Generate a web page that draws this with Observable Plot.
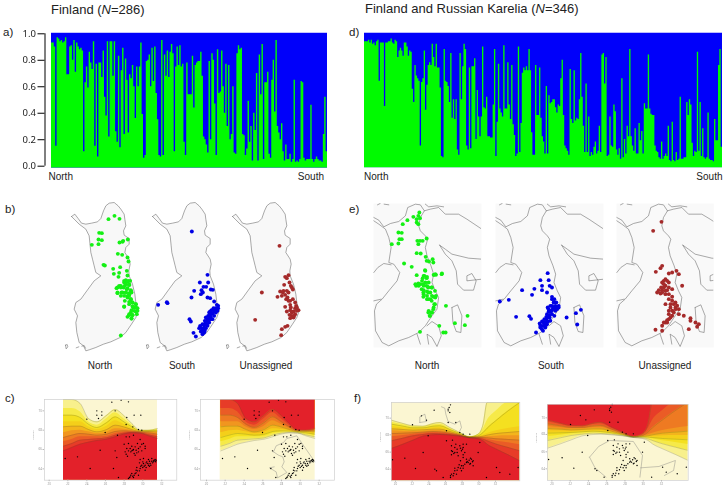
<!DOCTYPE html>
<html><head><meta charset="utf-8">
<script src="https://cdn.jsdelivr.net/npm/d3@7"></script>
<script src="https://cdn.jsdelivr.net/npm/@observablehq/plot@0.6"></script>
<style>
html,body{margin:0;padding:0;background:#fff;width:726px;height:489px;overflow:hidden}
body{position:relative;font-family:"Liberation Sans",Arial,sans-serif;color:#222}
.t{position:absolute;white-space:nowrap;line-height:1}
.p{position:absolute}
.p svg{display:block;background:transparent;overflow:visible}
</style></head><body>
<script>
// ---------- Membership proportions (share of the green cluster), ordered north to south
const finlandGreen = [.93,.93,.90,.15,.97,.96,.94,.95,.93,.94,.97,.69,.69,.90,.91,.80,.95,.71,.93,.90,.88,.89,.87,.11,.63,.75,.59,.86,.78,.73,.94,.15,.77,.07,.78,.78,.67,.87,.52,.38,.94,.22,.94,.94,.68,.94,.26,.18,.83,.14,.72,.89,.24,.81,.65,.25,.69,.66,.76,.60,.36,.75,.60,.75,.93,.39,.06,.08,.79,.80,.84,.60,.89,.64,.90,.55,.35,.08,.07,.95,.08,.84,.68,.87,.67,.86,.92,.85,.11,.75,.90,.76,.91,.75,.77,.18,.08,.78,.54,.54,.54,.83,.44,.76,.78,.79,.79,.86,.68,.22,.20,.16,.10,.79,.20,.85,.80,.47,.08,.88,.55,.56,.87,.60,.40,.77,.30,.76,.20,.24,.60,.10,.09,.85,.91,.88,.89,.24,.23,.08,.13,.49,.18,.30,.04,.40,.27,.70,.04,.84,.54,.92,.05,.63,.63,.71,.09,.06,.65,.80,.41,.95,.30,.25,.20,.32,.11,.04,.16,.05,.05,.09,.03,.05,.65,.03,.04,.03,.05,.64,.63,.06,.04,.05,.05,.05,.46,.05,.03,.05,.07,.05,.04,.04,.03,.24,.52,.11];
const karelianGreen = [.94,.94,.94,.95,.93,.95,.92,.93,.91,.94,.95,.64,.93,.93,.93,.45,.93,.93,.94,.94,.96,.93,.92,.95,.94,.82,.87,.89,.87,.83,.93,.93,.90,.83,.87,.86,.58,.48,.76,.68,.66,.64,.15,.63,.66,.87,.42,.61,.76,.78,.76,.92,.82,.75,.92,.74,.74,.59,.07,.06,.88,.64,.63,.60,.48,.85,.36,.50,.35,.50,.12,.08,.85,.50,.75,.92,.88,.15,.12,.74,.13,.75,.75,.81,.20,.57,.37,.22,.37,.90,.44,.43,.52,.22,.22,.21,.21,.46,.88,.07,.33,.77,.43,.40,.37,.91,.43,.43,.78,.46,.35,.76,.31,.23,.07,.09,.90,.10,.32,.70,.74,.72,.75,.72,.88,.72,.25,.08,.08,.76,.38,.38,.74,.36,.22,.18,.09,.60,.09,.53,.47,.48,.50,.50,.44,.40,.46,.45,.66,.80,.38,.15,.13,.11,.08,.73,.35,.32,.72,.34,.36,.35,.50,.85,.52,.30,.10,.62,.10,.37,.07,.10,.08,.14,.18,.09,.11,.30,.10,.84,.85,.62,.82,.07,.08,.37,.15,.14,.46,.41,.12,.08,.13,.05,.66,.06,.20,.09,.30,.22,.88,.22,.15,.11,.28,.09,.09,.32,.19,.26,.09,.47,.43,.43,.84,.43,.39,.38,.38,.15,.11,.10,.06,.05,.18,.05,.07,.09,.07,.30,.04,.03,.33,.04,.03,.10,.04,.05,.52,.05,.05,.06,.06,.48,.38,.50,.46,.17,.07,.11,.10,.86,.11,.48,.07,.28,.06,.05,.06,.40,.05,.04,.04,.03,.35,.19,.19,.76,.88,.14];
const proportionTicks = [0,.2,.4,.6,.8,1];

// ---------- Map of Finland (map units)
const finlandOutline = [[212,77],[222,70],[232,83],[242,97],[255,100],[272,97],[290,93],[300,83],[308,60],[315,45],[325,37],[340,35],[352,45],[360,55],[370,70],[372,85],[375,105],[368,120],[370,133],[385,143],[385,160],[375,170],[372,185],[385,205],[388,220],[384,240],[385,255],[395,280],[402,310],[405,335],[412,360],[405,380],[392,400],[375,425],[358,440],[330,453],[308,460],[285,470],[265,477],[255,480],[248,465],[235,455],[228,425],[225,395],[230,375],[220,355],[225,335],[240,325],[258,300],[280,270],[300,255],[285,245],[280,225],[275,205],[270,185],[268,165],[265,135],[255,115],[235,100],[222,87],[212,77]];
const finlandIslets = [[[194,463],[199,461],[201,468],[196,474],[194,463]],[[226,471],[234,468]],[[243,466],[250,464],[254,472]]];
const fiNorth = [[323,85],[341,75],[356,84],[295,126],[303,127],[293,146],[303,148],[273,162],[293,160],[356,155],[367,150],[381,146],[365,153],[351,189],[364,192],[380,200],[383,212],[308,222],[312,224],[337,234],[358,229],[339,249],[355,246],[378,240],[380,254],[353,258],[375,268],[382,270],[370,275],[385,280],[355,285],[347,292],[360,290],[372,285],[380,292],[390,298],[350,305],[362,305],[375,305],[385,310],[392,305],[380,320],[390,325],[372,330],[395,335],[405,340],[385,340],[370,348],[398,350],[410,352],[392,358],[405,362],[385,370],[395,372],[380,378],[392,383],[360,434],[370,270],[380,273],[388,270],[375,280],[385,283],[360,285],[350,290],[368,290],[378,295],[390,300],[375,305],[385,307],[350,307],[365,305],[370,315],[380,317],[390,325],[385,333],[395,335],[405,340],[395,347],[405,350],[410,360],[400,360],[390,365],[385,373],[395,373],[408,370],[392,383],[370,347],[385,315],[360,315]];
const fiSouth = [[573,122],[620,252],[597,275],[622,275],[608,288],[616,288],[630,296],[636,297],[602,298],[606,305],[580,300],[600,310],[572,320],[620,320],[628,322],[640,332],[472,342],[498,334],[500,337],[648,342],[652,352],[640,358],[628,362],[645,365],[635,368],[625,375],[640,375],[620,385],[630,385],[566,385],[570,392],[615,395],[625,395],[610,405],[620,405],[598,410],[605,415],[615,412],[600,422],[610,425],[605,430],[578,426],[585,437],[630,378],[648,355],[635,385],[652,345],[645,352],[638,352],[632,358],[625,365],[630,370],[622,375],[615,380],[628,380],[612,390],[620,390],[605,400],[612,400],[598,405],[608,412],[618,400],[625,385],[640,362],[650,360],[595,412],[603,420],[612,420]];
const fiUnassigned = [[838,165],[865,253],[855,258],[868,275],[852,282],[872,285],[878,296],[840,302],[848,305],[860,300],[865,305],[855,312],[785,305],[832,318],[845,315],[862,320],[870,330],[878,325],[885,335],[855,348],[870,342],[888,345],[895,358],[885,352],[860,362],[870,358],[885,370],[875,375],[870,382],[765,387],[880,380],[862,405],[855,408],[845,415],[843,433],[890,360],[860,262],[875,290],[850,300],[872,350],[880,362],[868,372],[882,375],[875,365],[865,330],[858,325],[890,350]];

// ---------- Map of Finland and Russian Karelia (map units)
const karelianOutlines = [
 [[31,80],[46,88],[61,108],[81,98],[106,92],[126,75],[133,50],[156,40],[171,42],[183,60],[171,80],[166,105],[171,120],[186,135],[193,145],[186,170],[191,195],[203,225],[211,250],[206,275],[216,300],[226,320],[221,355],[206,375],[186,405],[166,425],[136,440],[106,450],[76,465],[56,455],[36,420],[33,360],[39,340],[56,325],[76,300],[101,270],[109,245],[91,220],[76,215],[83,170],[76,140],[66,115],[46,100],[31,90]],
 [[183,60],[201,55],[226,50],[246,70],[286,70],[311,85],[356,115]],
 [[229,163],[246,175],[266,190],[316,202],[356,205]],
 [[229,163],[246,190],[266,210],[279,240],[283,280],[301,298],[331,298],[339,270],[326,248],[311,255],[311,270],[356,265]],
 [[31,245],[43,230],[61,218],[83,222]],
 [[31,330],[53,325]],
 [[191,405],[206,392],[226,405],[234,435],[221,467],[206,440],[191,430],[196,460]],
 [[266,350],[283,342],[296,375],[293,425],[279,422],[269,395],[266,350]],
 [[161,430],[171,460]],
 [[186,40],[196,48],[221,45],[241,48]],
 [[42,42],[50,38]],[[62,40],[76,42]]
];
const krNorth = [[168,65],[165,75],[160,85],[170,82],[160,95],[165,100],[150,78],[132,88],[118,100],[105,125],[115,126],[108,145],[115,145],[85,160],[105,158],[162,150],[170,150],[178,150],[190,143],[165,160],[160,187],[172,188],[187,198],[190,210],[197,212],[208,205],[210,215],[122,218],[145,228],[185,238],[160,253],[183,255],[178,262],[190,262],[212,252],[218,252],[235,250],[165,278],[158,285],[180,280],[190,285],[175,295],[195,290],[205,290],[180,305],[195,305],[215,300],[180,318],[195,325],[210,318],[218,315],[205,330],[215,340],[248,345],[210,355],[195,365],[205,365],[200,375],[313,375],[275,397],[305,403],[228,405],[240,425],[247,425],[170,423],[186,240],[181,255],[191,258],[176,270],[186,275],[196,275],[171,280],[181,285],[193,288],[206,290],[181,298],[191,302],[201,305],[181,310],[191,315],[206,315],[216,320],[201,325],[191,325],[213,340],[211,350],[196,360],[206,365],[199,375],[166,285],[156,280],[216,250],[211,252],[236,248]];
const krSouth = [[552,247],[530,268],[555,268],[535,285],[558,285],[565,290],[475,298],[512,294],[535,298],[550,305],[505,312],[408,332],[435,327],[565,318],[572,325],[578,335],[585,345],[560,345],[570,350],[558,360],[575,360],[565,370],[555,378],[572,375],[457,378],[497,376],[502,384],[548,385],[560,390],[540,395],[550,400],[528,398],[535,405],[545,410],[535,415],[517,425],[609,380],[637,367],[652,357],[641,401],[580,355],[555,355],[565,358],[545,395],[570,335],[565,325],[575,345],[568,352],[555,362],[562,362],[572,352],[550,370],[558,372],[548,378],[542,385],[552,392],[535,392],[530,405],[540,405],[548,402],[558,380],[578,350],[585,350],[530,410],[538,420],[545,400],[565,345],[552,350]];
const krUnassigned = [[893,93],[868,120],[895,225],[890,232],[876,243],[915,248],[925,245],[938,240],[945,250],[905,265],[895,275],[915,275],[955,285],[905,285],[885,298],[895,298],[910,298],[925,295],[890,308],[905,310],[915,310],[915,325],[925,330],[935,335],[905,340],[920,350],[940,345],[925,360],[945,355],[915,370],[925,375],[945,370],[960,375],[915,385],[905,395],[895,405],[910,395],[875,417],[895,420],[980,382],[995,395],[975,415],[980,390],[1005,400],[1000,408],[900,270],[910,270],[892,290],[900,290],[915,290],[880,305],[895,305],[925,318],[930,340],[920,340],[935,350],[915,360],[930,365],[935,355],[920,380],[910,388],[900,395],[900,280],[905,300]];

// ---------- Assignment surfaces: contour levels read along fixed stations
const finStations = [190,215,240,265,290,320,345,370,395,420,445,472];
const finContours = [
 [58,58,70,115,125,105,88,105,130,150,150,145],
 [85,85,95,125,135,115,98,115,135,151,151,148],
 [105,105,112,132,142,127,110,124,140,152,152,150],
 [125,125,125,140,148,138,122,132,144,153,153,152],
 [140,138,138,148,155,148,135,140,148,154,154,155],
 [158,152,150,155,160,156,146,147,151,155,156,158],
 [172,165,160,162,165,162,154,152,153,156,158,162],
 [185,178,170,170,170,168,160,156,155,157,161,166],
 [198,190,180,178,176,173,165,159,157,158,164,170],
 [212,202,192,186,181,177,170,162,158,159,167,175]];
const krStations = [85,120,150,180,210,230,260,290,320,345,360,372,400,435,470];
const krContours = [
 [118,128,135,136,128,125,140,155,168,160,130,65,65,65,65],
 [124,132,138,138,132,130,143,157,168,162,145,120,90,65,65],
 [130,136,141,141,136,135,146,158,169,165,155,142,118,90,65],
 [137,141,144,144,141,140,149,160,169,167,163,158,150,143,138],
 [144,146,148,147,145,145,152,161,169,168,166,163,158,155,152],
 [150,151,152,151,149,149,155,162,170,169,168,167,166,165,165],
 [158,157,156,154,152,153,157,163,170,170,170,171,174,176,178],
 [168,164,160,157,155,156,159,164,170,171,172,175,181,186,192],
 [180,172,165,161,158,159,161,165,171,172,175,180,190,200,210],
 [203,190,178,166,162,161,163,166,171,174,180,190,205,222,240]];
const ramp = ["#fbf6d2","#f8f08c","#f6ea48","#f4e020","#f4cf1a","#f3b51c","#f1961f","#ee7a22","#ea5c26","#e73c28","#e3212a"];
const finSamples = [[335,66],[363,60],[385,65],[290,92],[305,95],[290,105],[305,105],[260,117],[295,115],[345,92],[380,112],[402,105],[422,105],[378,133],[398,140],[415,148],[315,157],[352,165],[378,170],[400,165],[425,150],[372,192],[385,190],[412,190],[430,190],[390,205],[398,210],[408,210],[420,200],[435,205],[300,210],[345,212],[375,215],[392,215],[405,225],[415,215],[430,235],[195,235],[232,230],[350,232],[382,228],[420,238],[430,250],[445,238],[455,235],[462,240],[440,245],[450,250],[460,245],[468,240],[425,255],[435,255],[452,255],[270,265],[340,265],[408,270],[420,265],[435,270],[395,280],[405,280],[415,285],[390,290],[400,292],[385,295],[355,292],[410,262],[445,255],[457,248],[465,243],[418,248],[395,198],[402,220],[425,212],[380,205],[388,170],[420,178],[465,238],[460,242],[467,245],[455,243],[448,243],[443,250],[438,248],[428,245],[432,258],[422,258],[412,272],[402,285],[392,285],[388,292],[398,288],[408,278],[418,272],[428,262],[438,262],[448,258],[405,200],[395,212],[385,212],[415,205],[425,192],[435,198],[410,218],[400,208],[378,222]];
const krSamples = [[262,72],[255,90],[260,95],[213,88],[175,105],[190,118],[148,132],[255,125],[278,125],[290,155],[300,160],[320,160],[195,165],[250,150],[250,180],[265,195],[275,200],[290,195],[300,200],[265,210],[275,215],[295,210],[305,215],[285,225],[300,230],[310,235],[325,235],[330,240],[315,245],[305,250],[295,255],[285,260],[275,270],[265,280],[270,285],[180,215],[125,232],[88,237],[157,263],[215,265],[240,290],[350,185],[400,260],[440,280],[465,260],[345,215],[330,255],[410,275],[370,290],[220,270],[262,290],[280,280],[295,270],[320,250],[255,85],[258,80],[268,178],[282,205],[292,240],[312,242],[322,232],[300,262],[288,252],[275,262],[268,212],[272,218],[298,205],[292,202],[282,215],[300,222],[318,238],[310,245],[328,243],[322,248],[300,255],[292,262],[282,268],[272,278],[262,285],[278,190],[300,190],[310,190],[265,222]];
const finTickLabels = ["20","22","24","26","28","30","32"];
const latTickLabels = ["64","66","68","70"];

// ---------- Labels
const barLabels = ["North","South"];
const mapLabels = ["North","South","Unassigned"];
const BLUE="#0000fa", GREEN="#00fa00", DOTGREEN="#14f014", DOTBLUE="#0000e6", DOTBROWN="#a52a2a";

function place(node,left,top,blur){
  const d=document.createElement("div");d.className="p";
  d.style.left=left+"px";d.style.top=top+"px";
  if(blur)d.style.filter=`blur(${blur}px)`;
  d.appendChild(node);document.body.appendChild(d);
}
function text(html,x,y,size,anchor){
  const d=document.createElement("div");d.className="t";
  d.innerHTML=html;d.style.fontSize=size+"px";d.style.top=(y-size/2)+"px";
  if(anchor==="end"){d.style.right=(726-x)+"px";}
  else if(anchor==="middle"){d.style.left=x+"px";d.style.transform="translateX(-50%)";}
  else d.style.left=x+"px";
  document.body.appendChild(d);
}
function barChart(values,left,x0,x1,withAxis){
  const n=values.length,rows=values.map((v,i)=>({i,v}));
  rows.push({i:n,v:values[n-1]});
  const marks=[
    Plot.rect([0],{x1:0,x2:n,y1:-0.014,y2:1.004,fill:BLUE}),
    Plot.areaY(rows,{x:"i",y1:-0.014,y2:"v",fill:GREEN,curve:"step-after"})
  ];
  if(withAxis){
    marks.push(Plot.ruleX([-n*(x0-44.5)/(x1-x0)],{y1:0,y2:1,stroke:"#000",strokeWidth:1}));
    marks.push(Plot.axisY({ticks:proportionTicks,tickFormat:".1f",tickSize:7,tickPadding:2,fontSize:9.5,stroke:"#000",fill:"#222",label:null}));
  }
  const p=Plot.plot({width:x1+4-left,height:156,marginLeft:withAxis?44.5-left:0,marginRight:0,marginTop:0,marginBottom:0,
    x:{domain:[0,n],range:[x0-left,x1-left],axis:null},
    y:{domain:[0,1],range:[165.7-20,33.3-20],axis:null},marks});
  place(p,left,20,.25);
}
function mapPanel(left,top,w,h,dom,ydom,parts,pts,shift,color,bg,fillFirst){
  const rows=parts.flatMap((pt,k)=>pt.map(([x,y])=>({x,y,k})));
  const marks=[];
  if(bg)marks.push(Plot.frame({fill:bg,stroke:null}));
  if(fillFirst)marks.push(Plot.line(parts[0].map(([x,y])=>({x,y})),{x:"x",y:"y",fill:fillFirst,stroke:"none"}));
  marks.push(Plot.line(rows,{x:"x",y:"y",z:"k",stroke:"#555",strokeWidth:.5,curve:"linear",clip:true}));
  marks.push(Plot.dot(pts,{x:d=>d[0]-shift,y:d=>d[1],r:1.95,fill:color,stroke:null}));
  const p=Plot.plot({width:w,height:h,margin:0,x:{domain:dom,axis:null},y:{domain:ydom,axis:null},marks});
  place(p,left,top,.3);
}
function surface(left,top,w,h,stations,contours,xdom,ydom,fillDom,redBelow,samples,xticks,yticks,outline){
  const ml=16,mb=9;
  const mk=contours.map((c,k)=>c.map((v,i)=>({x:stations[i],y:v,k})));
  const marks=[Plot.rect([0],{x1:fillDom[0],x2:fillDom[1],y1:ydom[0],y2:ydom[1],fill:ramp[0]})];
  const order=redBelow?[0,1,2,3,4,5,6,7,8,9]:[9,8,7,6,5,4,3,2,1,0];
  for(const k of order){
    const color=redBelow?ramp[k+1]:ramp[10-k];
    marks.push(Plot.areaY(mk[k],{x:"x",y1:redBelow?ydom[0]:ydom[1],y2:"y",fill:color,curve:"monotone-x",clip:true}));
  }
  for(const k of [0,2,4,6,8,9]) marks.push(Plot.line(mk[k],{x:"x",y:"y",stroke:"#5a5a20",strokeOpacity:.55,strokeWidth:.45,curve:"monotone-x",clip:true}));
  if(outline)outline.forEach(o=>marks.push(Plot.line(o.map(([x,y])=>({x,y})),{x:"x",y:"y",stroke:"#777",strokeWidth:.4,clip:true})));
  marks.push(Plot.dot(samples,{x:d=>d[0],y:d=>d[1],r:.7,fill:"#000",stroke:null}));
  marks.push(Plot.frame({stroke:"#cfcfcf",strokeWidth:.7}));
  marks.push(Plot.axisX({ticks:xticks,tickFormat:(d,i)=>finTickLabels[i],tickSize:1.5,tickPadding:1,fontSize:3,stroke:"#bbb",fill:"#999",label:null}));
  marks.push(Plot.axisY({ticks:yticks,tickFormat:(d,i)=>latTickLabels[i],tickSize:1.5,tickPadding:1,fontSize:3,stroke:"#bbb",fill:"#999",label:null}));
  marks.push(Plot.text(["Latitude"],{frameAnchor:"left",dx:-11,rotate:-90,fontSize:2.5,fill:"#aaa"}));
  const p=Plot.plot({width:w+ml,height:h+mb,marginLeft:ml,marginRight:0,marginTop:0,marginBottom:mb,
    x:{domain:xdom,axis:null},y:{domain:ydom,axis:null},marks});
  place(p,left-ml,top,.5);
}

// a) d)
barChart(finlandGreen,0,51,327,true);
barChart(karelianGreen,363,364,723,false);
// b)
const bParts=[finlandOutline,...finlandIslets];
[[fiNorth,0,DOTGREEN],[fiSouth,243,DOTBLUE],[fiUnassigned,485,DOTBROWN]].forEach(([pts,s,c])=>
  mapPanel((185+s)/3,190+20/3,80,160,[185,425],[500,20],bParts,pts,s,c,null,"#f8f8f8"));
// e)
[[krNorth,0,DOTGREEN,373,108,[30,355]],[krSouth,365,DOTBLUE,494.7,108,[30,355]],[krUnassigned,728,DOTBROWN,615.7,97.3,[30,322]]].forEach(([pts,s,c,l,w,d])=>
  mapPanel(l,190+38/3,w,144,d,[470,38],karelianOutlines,pts,s,c,"#f9f9f9",null));
// c)
const cLeftTicks=[147,203,260,316,372,428,485], cYTicks=[266,208,150,92];
surface(44.3,399.3,132.3,80.7,finStations,finContours,[133,530],[300,58],[190,472],true,finSamples,cLeftTicks,cYTicks,null);
surface(200.3,399.3,134,80.7,finStations,finContours,[129,531],[300,58],[188,473],false,finSamples,cLeftTicks,cYTicks,
  [[[348,215],[356,197],[378,187],[388,175],[418,167],[472,245]],[[348,215],[363,225],[376,230],[380,245],[373,260],[388,277],[360,293],[356,275],[336,263],[350,260]]]);
// f)
const fXTicks=[97,147,197,247,297,347,397,447], fYTicks=[265,214,162,112];
surface(391.3,401.7,128.3,78.3,krStations,krContours,[85,470],[300,65],[85,470],true,krSamples,fXTicks.slice(0,7),fYTicks,
  [[[235,78],[245,82],[248,100],[255,122],[275,130],[290,120],[295,140],[290,150]],[[170,125],[170,108],[185,100],[190,122],[170,125]]]);
surface(547.3,404,140.7,76,krStations,krContours,[85,470],[300,72],[85,470],false,krSamples,fXTicks.slice(0,7),fYTicks,
  [[[200,230],[225,198],[255,180],[320,183],[345,225],[338,290]],[[200,230],[215,262],[245,290]],[[340,262],[390,258],[435,240],[430,270],[405,285]]]);

// Text
text('Finland (<i>N</i>=286)',51,9,13);
text('Finland and Russian Karelia (<i>N</i>=346)',365,8.5,13);
[['a)',3,33],['d)',349,33],['b)',5,210],['e)',349,210],['c)',5,399],['f)',354,399]].forEach(([s,x,y])=>text(s,x,y,11.5));
text(barLabels[0],48.5,177,10);text(barLabels[1],324,177,10,"end");
text(barLabels[0],364,177,10);text(barLabels[1],722.5,177,10,"end");
[100,182,266].forEach((x,i)=>text(mapLabels[i],x,365.5,10,"middle"));
[427,551,665].forEach((x,i)=>text(mapLabels[i],x,365.5,10,"middle"));
</script>
</body></html>
